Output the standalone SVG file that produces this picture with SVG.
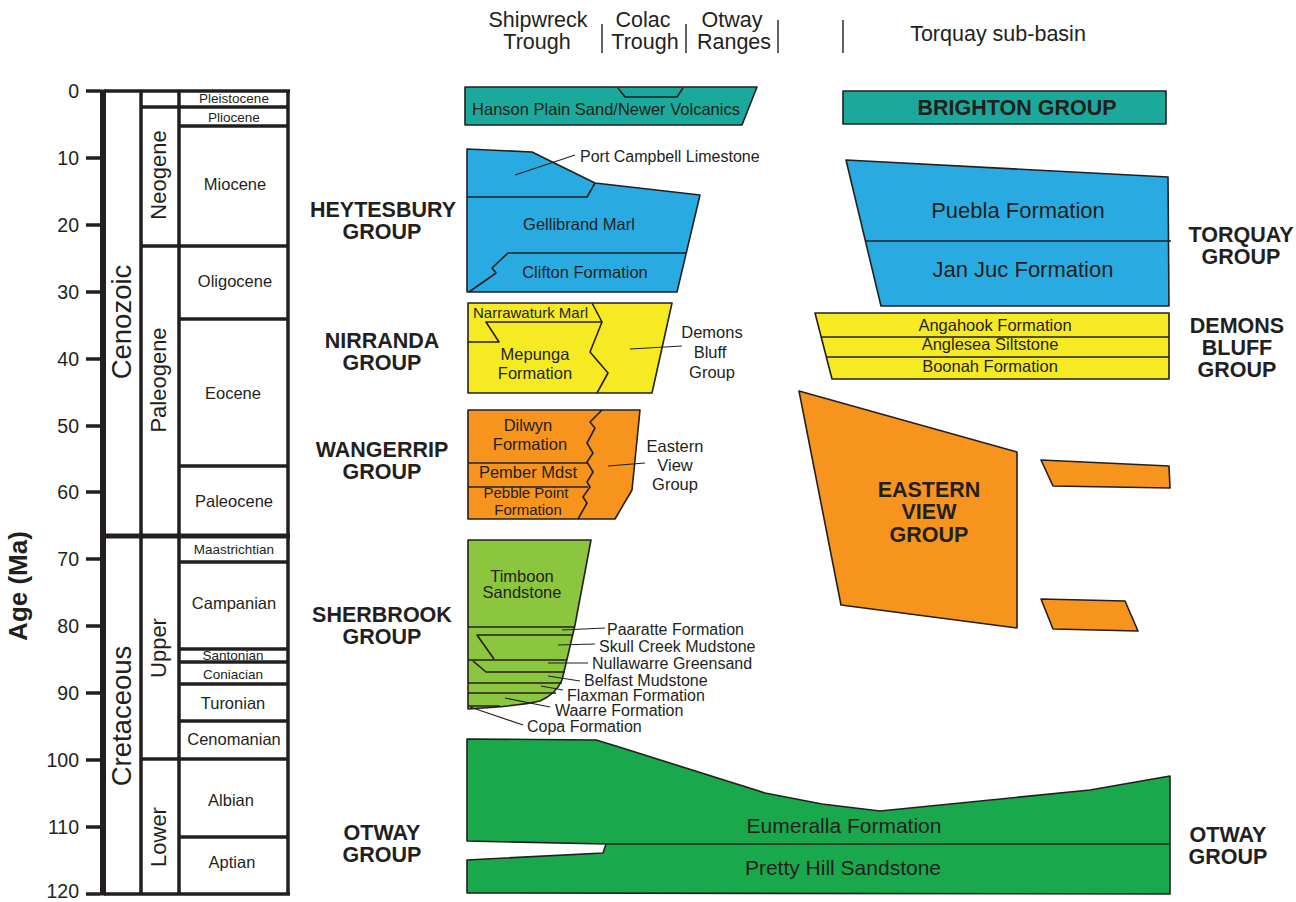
<svg xmlns="http://www.w3.org/2000/svg" width="1296" height="902" viewBox="0 0 1296 902">
<style>
text { font-family: "Liberation Sans", Arial, sans-serif; fill: #231f20; }
.t { font-size: 16.5px; text-anchor: middle; }
.tl { font-size: 16px; text-anchor: start; }
.s { font-size: 13.5px; text-anchor: middle; }
.h { font-size: 21.5px; text-anchor: middle; }
.g { font-size: 21.5px; font-weight: bold; text-anchor: middle; }
.big { font-size: 21px; text-anchor: middle; }
.big2 { font-size: 22px; text-anchor: middle; }
.n { font-size: 19.5px; text-anchor: end; }
.era { font-size: 27.5px; text-anchor: middle; }
.per { font-size: 22px; text-anchor: middle; }
.ax { stroke: #231f20; stroke-width: 3.5; fill: none; }
.u { stroke: #231f20; stroke-width: 1.6; stroke-linejoin: round; }
.ln { stroke: #231f20; stroke-width: 1.6; fill: none; stroke-linejoin: round; }
.ld { stroke: #231f20; stroke-width: 1.1; fill: none; }
.sep { stroke: #231f20; stroke-width: 1.4; }
.teal { fill: #1aa99a; }
.blue { fill: #29abe2; }
.yel { fill: #f6eb22; }
.org { fill: #f7941d; }
.lg { fill: #8cc63f; }
.dg { fill: #19a84b; }
</style>
<rect width="1296" height="902" fill="#ffffff"/>

<g id="timescale">
  <rect x="100" y="89.5" width="6" height="806" fill="#231f20"/>
  <path class="ax" d="M86,91H100 M86,158H100 M86,225H100 M86,292H100 M86,359H100 M86,426H100 M86,492H100 M86,559H100 M86,626H100 M86,693H100 M86,760H100 M86,827H100 M86,894H100"/>
  <path class="ax" d="M104,91H290 M104,894H290 M141,91V894 M179,91V894 M288,91V894"/>
  <path class="ax" d="M141,107H288 M179,126H288 M141,246H288 M179,319H288 M179,466H288 M179,562H288 M179,649H288 M179,662H288 M179,684H288 M179,721H288 M141,759H288 M179,837H288"/>
  <path d="M104,536H290" stroke="#231f20" stroke-width="5" fill="none"/>
  <text class="n" x="79" y="98">0</text>
  <text class="n" x="79" y="165">10</text>
  <text class="n" x="79" y="232">20</text>
  <text class="n" x="79" y="299">30</text>
  <text class="n" x="79" y="366">40</text>
  <text class="n" x="79" y="433">50</text>
  <text class="n" x="79" y="499">60</text>
  <text class="n" x="79" y="566">70</text>
  <text class="n" x="79" y="633">80</text>
  <text class="n" x="79" y="700">90</text>
  <text class="n" x="79" y="767">100</text>
  <text class="n" x="79" y="834">110</text>
  <text class="n" x="79" y="898">120</text>
  <text x="27" y="586" transform="rotate(-90 27 586)" style="font-size:26px;font-weight:bold;text-anchor:middle">Age (Ma)</text>
  <text class="era" x="131" y="322" transform="rotate(-90 131 322)">Cenozoic</text>
  <text class="era" x="131" y="716" transform="rotate(-90 131 716)">Cretaceous</text>
  <text class="per" x="166" y="175" transform="rotate(-90 166 175)">Neogene</text>
  <text class="per" x="166" y="380" transform="rotate(-90 166 380)">Paleogene</text>
  <text class="per" x="166" y="648" transform="rotate(-90 166 648)">Upper</text>
  <text class="per" x="166" y="837" transform="rotate(-90 166 837)">Lower</text>
  <text class="s" x="234" y="103">Pleistocene</text>
  <text class="s" x="234" y="122">Pliocene</text>
  <text class="t" x="235" y="190">Miocene</text>
  <text class="t" x="235" y="287">Oligocene</text>
  <text class="t" x="233" y="399">Eocene</text>
  <text class="t" x="234" y="507">Paleocene</text>
  <text class="s" x="234" y="554">Maastrichtian</text>
  <text class="t" x="234" y="609">Campanian</text>
  <text class="s" x="233" y="660">Santonian</text>
  <text class="s" x="233" y="679">Coniacian</text>
  <text class="t" x="233" y="709">Turonian</text>
  <text class="t" x="234" y="745">Cenomanian</text>
  <text class="t" x="231" y="806">Albian</text>
  <text class="t" x="232" y="868">Aptian</text>
</g>

<g id="headers">
  <text class="h" x="538" y="27">Shipwreck</text>
  <text class="h" x="537" y="49">Trough</text>
  <text class="h" x="643" y="27">Colac</text>
  <text class="h" x="645" y="49">Trough</text>
  <text class="h" x="732" y="27">Otway</text>
  <text class="h" x="734" y="49">Ranges</text>
  <text class="h" x="998" y="41">Torquay sub-basin</text>
  <path class="sep" d="M602,24V53 M686,24V53 M778,20V53 M843,20V53"/>
</g>

<g id="hanson">
  <path class="teal u" d="M465,87L757,87L742,125L465,125Z"/>
  <path class="ln" d="M618,88L625,97L677,97L683,88"/>
  <text class="t" x="606" y="115">Hanson Plain Sand/Newer Volcanics</text>
</g>

<g id="brighton">
  <rect class="teal u" x="843" y="91" width="323" height="33"/>
  <text class="g" x="1017" y="115">BRIGHTON GROUP</text>
</g>

<g id="heytesbury">
  <path class="blue u" d="M467,149L532,152L595,183L700,195L677,292L467,292Z"/>
  <path class="ln" d="M467,197L587,197L595,183"/>
  <path class="ln" d="M686,253L508,253L492,268L496,273L469,292"/>
  <text class="t" x="579" y="230">Gellibrand Marl</text>
  <text class="t" x="585" y="278">Clifton Formation</text>
  <text class="tl" x="580" y="162">Port Campbell Limestone</text>
  <text class="g" x="383" y="217">HEYTESBURY</text>
  <text class="g" x="382" y="239">GROUP</text>
</g>

<g id="torquay">
  <path class="blue u" d="M846,160L1168,177L1169,306L881,306Z"/>
  <path class="ln" d="M865,241H1171"/>
  <text class="big2" x="1018" y="218">Puebla Formation</text>
  <text class="big2" x="1023" y="277">Jan Juc Formation</text>
  <text class="g" x="1241" y="242">TORQUAY</text>
  <text class="g" x="1241" y="264">GROUP</text>
</g>

<g id="nirranda">
  <path class="yel u" d="M468,303L672,303L652,393L468,393Z"/>
  <path class="ln" d="M468,342L499,342L486,322L602,322"/>
  <path class="ln" d="M592,303L602,322L590,352L608,373L597,393"/>
  <text x="473" y="318" style="font-size:15px">Narrawaturk Marl</text>
  <text class="t" x="535" y="360">Mepunga</text>
  <text class="t" x="535" y="379">Formation</text>
  <text class="t" x="712" y="338">Demons</text>
  <text class="t" x="710" y="358">Bluff</text>
  <text class="t" x="712" y="378">Group</text>
  <text class="g" x="382" y="348">NIRRANDA</text>
  <text class="g" x="382" y="370">GROUP</text>
</g>

<g id="demons-bluff">
  <path class="yel u" d="M815,313L1169,313L1169,379L832,379Z"/>
  <path class="ln" d="M821,337H1169 M826,357H1169"/>
  <text class="t" x="995" y="331">Angahook Formation</text>
  <text class="t" x="990" y="350">Anglesea Siltstone</text>
  <text class="t" x="990" y="372">Boonah Formation</text>
  <text class="g" x="1237" y="333">DEMONS</text>
  <text class="g" x="1237" y="355">BLUFF</text>
  <text class="g" x="1237" y="377">GROUP</text>
</g>

<g id="wangerrip">
  <path class="org u" d="M468,410L640,410L632,490L615,519L468,519Z"/>
  <path class="ln" d="M468,463H588 M468,487H588"/>
  <path class="ln" d="M602,410L590,422L595,428L587,443L593,453L587,462L593,472L587,482L590,487L583,497L587,503L578,519"/>
  <text class="t" x="528" y="431">Dilwyn</text>
  <text class="t" x="530" y="450">Formation</text>
  <text class="t" x="528" y="478">Pember Mdst</text>
  <text x="526" y="498" style="font-size:15px;text-anchor:middle">Pebble Point</text>
  <text x="528" y="515" style="font-size:15px;text-anchor:middle">Formation</text>
  <text class="t" x="675" y="452">Eastern</text>
  <text class="t" x="675" y="471">View</text>
  <text class="t" x="675" y="490">Group</text>
  <text class="g" x="382" y="457">WANGERRIP</text>
  <text class="g" x="382" y="479">GROUP</text>
</g>

<g id="eastern-view">
  <path class="org u" d="M799,391L1017,452L1017,628L841,605Z"/>
  <path class="org u" d="M1041,460L1169,466L1170,488L1053,486Z"/>
  <path class="org u" d="M1041,599L1125,601L1138,631L1053,629Z"/>
  <text class="g" x="929" y="497">EASTERN</text>
  <text class="g" x="929" y="519">VIEW</text>
  <text class="g" x="929" y="542">GROUP</text>
</g>

<g id="sherbrook">
  <path class="lg u" d="M468,540L591,540L575,625L568,655L562,680Q556,694 540,701Q520,706 468,709Z"/>
  <path class="ln" d="M468,627H574 M573,635H477L494,659 M468,660H567 M473,661L486,672H565 M468,683H562 M468,693H556 M468,706L500,706"/>
  <text class="t" x="522" y="582">Timboon</text>
  <text class="t" x="522" y="598">Sandstone</text>
  <text class="tl" x="607" y="635">Paaratte Formation</text>
  <text class="tl" x="599" y="652">Skull Creek Mudstone</text>
  <text class="tl" x="592" y="669">Nullawarre Greensand</text>
  <text class="tl" x="584" y="686">Belfast Mudstone</text>
  <text class="tl" x="567" y="701">Flaxman Formation</text>
  <text class="tl" x="555" y="716">Waarre Formation</text>
  <text class="tl" x="527" y="732">Copa Formation</text>
  <text class="g" x="382" y="622">SHERBROOK</text>
  <text class="g" x="382" y="644">GROUP</text>
</g>

<g id="otway">
  <path class="dg u" d="M467,739L596,740L616,746L765,793L822,804L880,811L1090,790L1170,776L1170,894L467,893L467,860L603,853L606,844L467,841Z"/>
  <path class="ln" d="M606,844H1170"/>
  <text class="big" x="844" y="833">Eumeralla Formation</text>
  <text class="big" x="843" y="875">Pretty Hill Sandstone</text>
  <text class="g" x="382" y="840">OTWAY</text>
  <text class="g" x="382" y="862">GROUP</text>
  <text class="g" x="1228" y="842">OTWAY</text>
  <text class="g" x="1228" y="864">GROUP</text>
</g>

<g id="connectors">
  <path class="ld" d="M515,175L575,155"/>
  <path class="ld" d="M630,349L682,346"/>
  <path class="ld" d="M608,466L645,463"/>
  <path class="ld" d="M562,630L605,628"/>
  <path class="ld" d="M558,645L595,644"/>
  <path class="ld" d="M548,663L588,663"/>
  <path class="ld" d="M548,676L580,681"/>
  <path class="ld" d="M541,686L563,690"/>
  <path class="ld" d="M505,698L550,707"/>
  <path class="ld" d="M470,707L523,725"/>
</g>
</svg>
